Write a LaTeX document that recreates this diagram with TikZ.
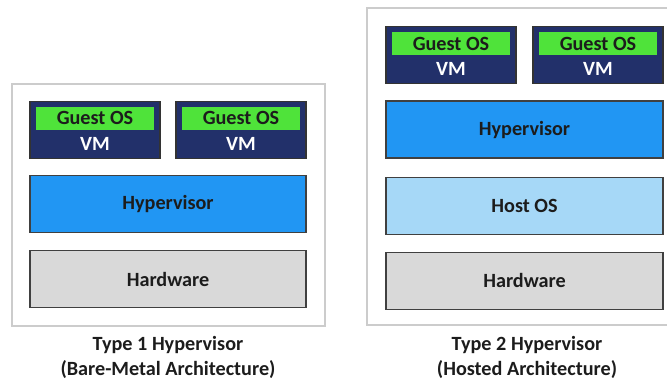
\documentclass[tikz,border=0pt]{standalone}
\usepackage{fontspec}
\setmainfont{Carlito}
\usetikzlibrary{positioning}
\definecolor{vmnavy}{HTML}{22306A}
\definecolor{guestgreen}{HTML}{4FE33A}
\definecolor{hypblue}{HTML}{2196F3}
\definecolor{hostblue}{HTML}{A6D8F7}
\definecolor{hwgray}{HTML}{D9D9D9}
\definecolor{framegray}{HTML}{CCCCCC}
\definecolor{inkdark}{HTML}{1C1C1C}
\begin{document}
\begin{tikzpicture}[x=1pt, y=-1pt, font=\bfseries\fontsize{20.2}{25}\selectfont,
  frame/.style = {draw=framegray, line width=1.5pt, inner sep=0pt},
  layer/.style = {draw=black!75, line width=1.2pt, minimum width=276pt, minimum height=57pt, inner sep=0pt, text=inkdark},
  vm/.style = {draw=black!80, fill=vmnavy, line width=1.2pt, minimum width=130pt, minimum height=57pt, inner sep=0pt},
  guest/.style = {fill=guestgreen, minimum width=118pt, minimum height=23pt, inner sep=0pt, text=inkdark},
  vmtext/.style = {text=white, inner sep=0pt},
  caption/.style = {align=center, text=inkdark}]
\clip (0,0) rectangle (667,381);
% type 1
\node[frame, minimum width=313pt, minimum height=242pt] (frame1) at (168.5,205) {};
\node[layer, fill=hypblue] (hyp1) at (168,204) {Hypervisor};
\node[layer, fill=hwgray] (hw1) [below=17pt of hyp1] {Hardware};
\node[vm] (vm1a) [above=16pt of hyp1.north west, anchor=south west] {};
\node[vm] (vm1b) [above=16pt of hyp1.north east, anchor=south east] {};
\node[guest] (g1a) [below=6pt of vm1a.north] {Guest OS};
\node[guest] (g1b) [below=6pt of vm1b.north] {Guest OS};
\node[vmtext] (t1a) [below=7pt of g1a] {VM};
\node[vmtext] (t1b) [below=7pt of g1b] {VM};
\node[caption] (cap1) at (168,357.5) {Type 1 Hypervisor\\(Bare-Metal Architecture)};
% type 2
\node[frame, minimum width=305pt, minimum height=317pt] (frame2) at (519.5,166.5) {};
\node[layer, fill=hypblue, minimum width=277pt] (hyp2) at (524.5,129.5) {Hypervisor};
\node[layer, fill=hostblue, minimum width=277pt] (host2) [below=18pt of hyp2] {Host OS};
\node[layer, fill=hwgray, minimum width=277pt] (hw2) [below=17pt of host2] {Hardware};
\node[vm] (vm2a) [above=16pt of hyp2.north west, anchor=south west] {};
\node[vm] (vm2b) [above=16pt of hyp2.north east, anchor=south east] {};
\node[guest] (g2a) [below=6pt of vm2a.north] {Guest OS};
\node[guest] (g2b) [below=6pt of vm2b.north] {Guest OS};
\node[vmtext] (t2a) [below=7pt of g2a] {VM};
\node[vmtext] (t2b) [below=7pt of g2b] {VM};
\node[caption] (cap2) at (527,357.5) {Type 2 Hypervisor\\(Hosted Architecture)};
\end{tikzpicture}
\end{document}
